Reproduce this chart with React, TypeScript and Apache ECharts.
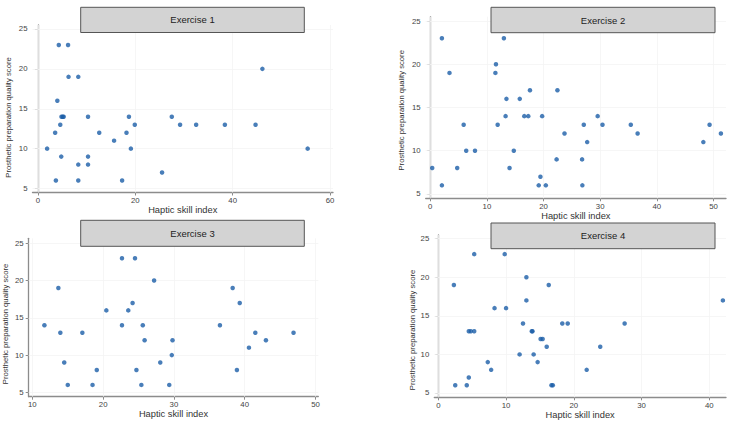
import React, { useEffect, useRef } from "react";
import * as echarts from "echarts";

const yTicks = [5, 10, 15, 20, 25];
const ex1XTicks = [0, 20, 40, 60];
const ex2XTicks = [0, 10, 20, 30, 40, 50];
const ex3XTicks = [10, 20, 30, 40, 50];
const ex4XTicks = [0, 10, 20, 30, 40];

const panelTitles = ["Exercise 1", "Exercise 2", "Exercise 3", "Exercise 4"];
const xTitle = "Haptic skill index";
const yTitle = "Prosthetic preparation quality score";

const ex1X = [4.3, 6.2, 6.3, 8.3, 4.0, 4.85, 5.1, 5.3, 10.3, 18.7, 4.6, 19.9, 3.55, 12.6, 18.2, 15.65, 1.9, 19.1, 4.8, 10.3, 8.3, 10.3, 3.7, 8.3, 17.3, 25.5, 27.5, 29.2, 32.5, 38.4, 44.7, 46.1, 55.4];
const ex1Y = [23, 23, 19, 19, 16, 14, 14, 14, 14, 14, 13, 13, 12, 12, 12, 11, 10, 10, 9, 9, 8, 8, 6, 6, 6, 7, 14, 13, 13, 13, 13, 20, 10];

const ex2X = [0.35, 2.06, 2.06, 3.4, 4.76, 5.9, 6.35, 7.9, 13.0, 11.6, 11.5, 11.9, 13.45, 13.3, 14.0, 14.75, 15.8, 16.6, 17.3, 17.6, 19.75, 19.45, 19.15, 20.4, 22.45, 22.3, 23.7, 26.8, 26.85, 27.1, 27.7, 29.55, 30.4, 35.4, 36.6, 48.2, 49.3, 51.3];
const ex2Y = [8, 23, 6, 19, 8, 13, 10, 10, 23, 20, 19, 13, 16, 14, 8, 10, 16, 14, 14, 17, 14, 7, 6, 6, 17, 9, 12, 9, 6, 13, 11, 14, 13, 13, 12, 11, 13, 12];

const ex3X = [11.7, 13.67, 13.95, 14.5, 15.0, 17.06, 18.5, 19.1, 20.45, 22.66, 22.66, 24.5, 23.55, 24.16, 25.6, 25.86, 24.7, 25.4, 27.2, 28.07, 29.8, 29.7, 29.34, 36.5, 38.3, 39.3, 38.9, 40.6, 41.5, 43.0, 46.9];
const ex3Y = [14, 19, 13, 9, 6, 13, 6, 8, 16, 23, 14, 23, 16, 17, 14, 12, 8, 6, 20, 9, 12, 10, 6, 14, 19, 17, 8, 11, 13, 12, 13];

const ex4X = [2.3, 2.5, 4.2, 4.5, 4.5, 4.8, 5.3, 5.3, 7.3, 7.8, 8.3, 10.0, 9.8, 12.0, 12.5, 13.0, 13.0, 13.8, 13.9, 14.07, 14.66, 15.1, 15.4, 16.0, 16.3, 16.7, 16.9, 18.3, 19.1, 21.9, 23.9, 27.5, 42.0];
const ex4Y = [19, 6, 6, 7, 13, 13, 13, 23, 9, 8, 16, 16, 23, 10, 14, 20, 17, 13, 13, 10, 9, 12, 12, 11, 19, 6, 6, 14, 14, 8, 11, 14, 17];

const FONT = "'Liberation Sans', Arial, sans-serif";
const DOT = "#1b5ea8";
const AXIS = "#8c8c8c";

export default function App() {
  const ref = useRef<HTMLDivElement>(null);

  useEffect(() => {
    if (!ref.current) return;
    const chart = echarts.init(ref.current, null, { renderer: "svg" });

    const grids = [
      { left: 32.5, top: 25, width: 300.5, height: 167.5 },
      { left: 425.7, top: 16.7, width: 300.3, height: 181.6 },
      { left: 28.7, top: 238.3, width: 289.6, height: 158.4 },
      { left: 434.3, top: 235, width: 291.7, height: 162.3 },
    ];
    const xRanges = [
      [-1.1, 60.6],
      [-0.8, 52.2],
      [9.48, 50.4],
      [-0.59, 42.46],
    ];
    const yRanges = [
      [4.5, 25.5],
      [4.5, 25.5],
      [4.42, 25.67],
      [4.44, 25.48],
    ];
    const xTickSets = [ex1XTicks, ex2XTicks, ex3XTicks, ex4XTicks];
    const xs = [ex1X, ex2X, ex3X, ex4X];
    const ys = [ex1Y, ex2Y, ex3Y, ex4Y];

    const axisCommon = {
      type: "value" as const,
      axisLine: { show: true, lineStyle: { color: AXIS, width: 1.3 } },
      axisTick: { show: true, length: 3, lineStyle: { color: AXIS, width: 1 } },
      splitLine: { show: false },
    };

    const xAxis = xRanges.map((r, i) => ({
      ...axisCommon,
      gridIndex: i,
      min: r[0],
      max: r[1],
      axisTick: { ...axisCommon.axisTick, customValues: xTickSets[i] },
      axisLabel: {
        customValues: xTickSets[i],
        fontSize: 7.8,
        color: "#444",
        margin: 4,
        fontFamily: FONT,
      },
      name: xTitle,
      nameLocation: "middle",
      nameGap: 13,
      nameTextStyle: { fontSize: 9.3, color: "#333", fontFamily: FONT },
    }));

    const yAxis = yRanges.map((r, i) => ({
      ...axisCommon,
      gridIndex: i,
      min: r[0],
      max: r[1],
      axisTick: { ...axisCommon.axisTick, customValues: yTicks },
      axisLabel: {
        customValues: yTicks,
        fontSize: 7.8,
        color: "#444",
        margin: 5,
        fontFamily: FONT,
      },
    }));

    const series = xs.map((xv, i) => ({
      type: "scatter",
      xAxisIndex: i,
      yAxisIndex: i,
      z: 3,
      symbol: "circle",
      symbolSize: 4.5,
      itemStyle: { color: DOT },
      data: xv.map((x, j) => [x, ys[i][j]]),
      markLine: {
        silent: true,
        z: 1,
        symbol: "none",
        label: { show: false },
        lineStyle: { color: "#f4f4f4", width: 0.8, type: "solid" },
        data: [
          ...xTickSets[i].map((v) => ({ xAxis: v })),
          ...yTicks.map((v) => ({ yAxis: v })),
        ],
      },
    }));

    const boxes = [
      { x: 80.7, y: 7.3, w: 223.6, h: 25.2 },
      { x: 491, y: 7.3, w: 224, h: 25.4 },
      { x: 80.7, y: 220.3, w: 223.6, h: 26 },
      { x: 491, y: 223, w: 224, h: 25.7 },
    ];
    const yTitlePos = [
      { x: 8.3, y: 117.5 },
      { x: 401, y: 110.3 },
      { x: 5.5, y: 324 },
      { x: 412, y: 330 },
    ];

    const graphic: any[] = [];
    boxes.forEach((b, i) => {
      graphic.push({
        type: "rect",
        z: 100,
        shape: { x: b.x, y: b.y, width: b.w, height: b.h },
        style: { fill: "#d3d3d3", stroke: "#555", lineWidth: 1 },
      });
      graphic.push({
        type: "text",
        z: 101,
        x: b.x + b.w / 2,
        y: b.y + b.h / 2,
        style: {
          text: panelTitles[i],
          fontSize: 9.5,
          fill: "#222",
          fontFamily: FONT,
          textAlign: "center",
          textVerticalAlign: "middle",
        },
      });
    });
    yTitlePos.forEach((p) => {
      graphic.push({
        type: "text",
        z: 101,
        x: p.x,
        y: p.y,
        rotation: Math.PI / 2,
        style: {
          text: yTitle,
          fontSize: 7.7,
          fill: "#333",
          fontFamily: FONT,
          textAlign: "center",
          textVerticalAlign: "middle",
        },
      });
    });

    chart.setOption({
      animation: false,
      backgroundColor: "#ffffff",
      grid: grids,
      xAxis,
      yAxis,
      series,
      graphic,
    });

    return () => chart.dispose();
  }, []);

  return (
    <div
      ref={ref}
      style={{ position: "fixed", left: 0, top: 0, width: 733, height: 421 }}
    />
  );
}
